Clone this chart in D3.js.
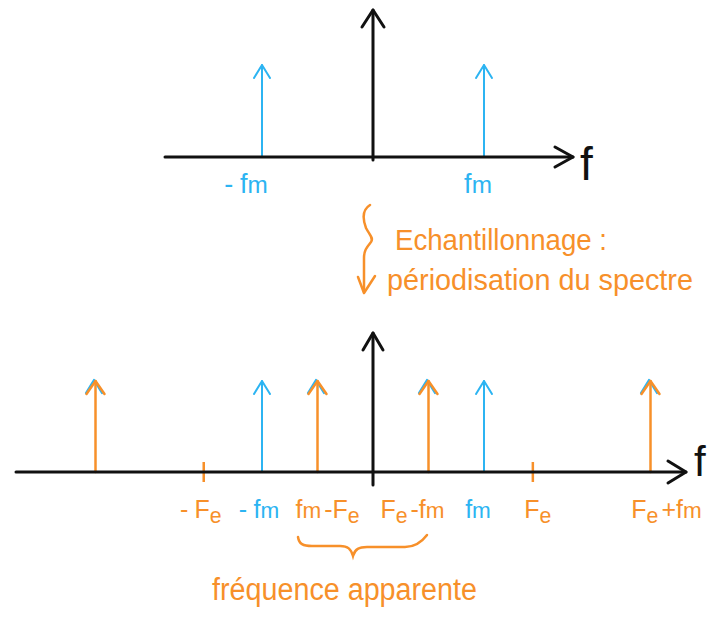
<!DOCTYPE html>
<html>
<head>
<meta charset="utf-8">
<script src="https://cdn.jsdelivr.net/npm/d3@7"></script>
<style>
  body { margin: 0; background: #fff; }
  svg { display: block; }
  text { font-family: "Liberation Sans", "DejaVu Sans", sans-serif; }
</style>
</head>
<body>
<svg id="chart" width="712" height="621"></svg>
<script>
// frequencies in units where fm = 2 and Fe = 3 (as sketched)
const topFreqs = [-2, 2];
const topLabels = ["-fm", "fm"];

const bottomFreqs = [-5, -2, -1, 1, 2, 5];
const bottomKinds = ["alias", "signal", "alias", "alias", "signal", "alias"];
const tickFreqs = [-3.05, 2.88];
const labelFreqs = [-3.05, -2, -1, 1, 2, 2.88, 5];
const bottomLabels = ["-Fe", "-fm", "fm-Fe", "Fe-fm", "fm", "Fe", "Fe+fm"];
const labelKinds = ["alias", "signal", "alias", "alias", "signal", "alias", "alias"];

const noteLines = ["Echantillonnage :", "périodisation du spectre"];
const braceNote = "fréquence apparente";

const BLUE = "#2cb4f2", ORANGE = "#f7902a", BLACK = "#111";

let svg = d3.select("svg#chart");
svg.append("rect").attr("width", 712).attr("height", 621).attr("fill", "#fff");

// shared frequency scale
let x = d3.scaleLinear().domain([0, 5]).range([373, 650.5]);
let yTop = d3.scaleLinear().domain([0, 1]).range([157, 65]);
let yBot = d3.scaleLinear().domain([0, 1]).range([472, 381]);

let line = d3.line();

function head(g, x1, y1, color, width, len, w) {
    g.append("path").attr("d", line([[x1 - w, y1 + len], [x1, y1], [x1 + w, y1 + len]]))
        .attr("stroke", color).attr("stroke-width", width).attr("fill", "none")
        .attr("stroke-linecap", "round").attr("stroke-linejoin", "round");
}

function arrow(g, x0, y0, x1, y1, color, width, hd) {
    g.append("path").attr("d", line([[x0, y0], [x1, y1]]))
        .attr("stroke", color).attr("stroke-width", width).attr("fill", "none")
        .attr("stroke-linecap", "round");
    let a = Math.atan2(y1 - y0, x1 - x0), s = hd.len, w = hd.w;
    let p1 = [x1 - s * Math.cos(a) + w * Math.sin(a), y1 - s * Math.sin(a) - w * Math.cos(a)];
    let p2 = [x1 - s * Math.cos(a) - w * Math.sin(a), y1 - s * Math.sin(a) + w * Math.cos(a)];
    g.append("path").attr("d", line([p1, [x1, y1], p2]))
        .attr("stroke", color).attr("stroke-width", width).attr("fill", "none")
        .attr("stroke-linecap", "round").attr("stroke-linejoin", "round");
}

// labels: "m" and "e" are written small, "e" as a subscript
function writeLabel(t, str, size) {
    let chars = str.split("");
    chars.forEach(function (c, i) {
        let sp = t.append("tspan").text(c);
        if (c === "m") sp.attr("font-size", size * 0.9);
        if (c === "e") sp.attr("font-size", size * 0.85).attr("dy", 5);
        if (i > 0 && chars[i - 1] === "e") sp.attr("dy", -5);
        if (c === "-" || c === "+") sp.attr("dx", 3);
        if (i === 1 && chars[0] === "-") sp.attr("dx", size * 0.25);
    });
}

// ---------------- top spectrum ----------------
let topG = svg.append("g");
topFreqs.forEach(function (f) {
    arrow(topG, x(f), yTop(0), x(f), yTop(1), BLUE, 2, {len: 13, w: 8});
});
arrow(topG, 165, yTop(0), 573, yTop(0), BLACK, 3, {len: 18, w: 10});
arrow(topG, x(0), yTop(0) + 3, x(0), 10, BLACK, 3, {len: 17, w: 11});

topG.selectAll("text.lab").data(topFreqs).enter().append("text")
    .attr("class", "lab")
    .attr("x", d => d < 0 ? x(d) - 19 : x(d) - 6).attr("y", 193)
    .attr("text-anchor", "middle").attr("fill", BLUE).attr("font-size", 27)
    .each(function (d, i) { writeLabel(d3.select(this), topLabels[i], 27); });

topG.append("text").attr("x", 580).attr("y", 180).attr("font-size", 46)
    .attr("fill", BLACK).text("f");

// ---------------- annotation between charts ----------------
let note = svg.append("g");
note.append("path")
    .attr("d", "M370,205 C362,210 363,220 366,228 C369,234 374,238 371,242 C367,247 364,250 364,258 L364,292")
    .attr("stroke", ORANGE).attr("stroke-width", 2.5).attr("fill", "none").attr("stroke-linecap", "round");
note.append("path").attr("d", line([[358, 277], [364, 293], [375, 276]]))
    .attr("stroke", ORANGE).attr("stroke-width", 2.5).attr("fill", "none")
    .attr("stroke-linecap", "round").attr("stroke-linejoin", "round");
note.selectAll("text").data(noteLines).enter().append("text")
    .attr("x", (d, i) => i === 0 ? 395 : 387)
    .attr("y", (d, i) => i === 0 ? 250 : 290)
    .attr("font-size", 30).attr("fill", ORANGE)
    .attr("textLength", (d, i) => i === 0 ? 212 : 306)
    .attr("lengthAdjust", "spacingAndGlyphs")
    .text(d => d);

// ---------------- bottom spectrum (sampled) ----------------
let botG = svg.append("g");
bottomFreqs.forEach(function (f, i) {
    if (bottomKinds[i] === "signal") {
        arrow(botG, x(f), yBot(0), x(f), yBot(1), BLUE, 2, {len: 13, w: 8});
    } else {
        // replicas: blue head peeking under the orange one
        head(botG, x(f) - 1.5, yBot(1) - 1, BLUE, 2.2, 13, 8);
        arrow(botG, x(f), yBot(0), x(f), yBot(1), ORANGE, 2.5, {len: 13, w: 9});
    }
});
tickFreqs.forEach(function (f) {
    botG.append("path").attr("d", line([[x(f), 462], [x(f), 482]]))
        .attr("stroke", ORANGE).attr("stroke-width", 2.5);
});
arrow(botG, 16, yBot(0), 686, yBot(0), BLACK, 3, {len: 18, w: 11});
arrow(botG, x(0), 485, x(0), 333, BLACK, 3, {len: 17, w: 10});

botG.selectAll("text.lab").data(labelFreqs).enter().append("text")
    .attr("class", "lab")
    .attr("x", function (d) {
        if (d === -1) return x(d) + 10;
        if (d === 1) return x(d) - 16;
        if (d === 5) return x(d) + 16;
        if (d === -2) return x(d) - 6;
        if (d > 2.5) return x(d) + 5;
        return x(d) - 6;
    })
    .attr("y", 518)
    .attr("text-anchor", "middle").attr("font-size", 25)
    .attr("fill", (d, i) => labelKinds[i] === "signal" ? BLUE : ORANGE)
    .each(function (d, i) { writeLabel(d3.select(this), bottomLabels[i], 25); });

botG.append("text").attr("x", 694).attr("y", 476).attr("font-size", 42)
    .attr("fill", BLACK).text("f");

// brace grouping the apparent frequencies
botG.append("path")
    .attr("d", "M298,537 C299,544 303,546 312,546 L340,546 C348,546 351,549 353,556 C355,549 359,547 367,547 L405,547 C414,547 421,543 427,535")
    .attr("stroke", ORANGE).attr("stroke-width", 2.5).attr("fill", "none").attr("stroke-linecap", "round");
botG.append("text").attr("x", 212).attr("y", 600)
    .attr("font-size", 31).attr("fill", ORANGE)
    .attr("textLength", 265).attr("lengthAdjust", "spacingAndGlyphs")
    .text(braceNote);
</script>
</body>
</html>
